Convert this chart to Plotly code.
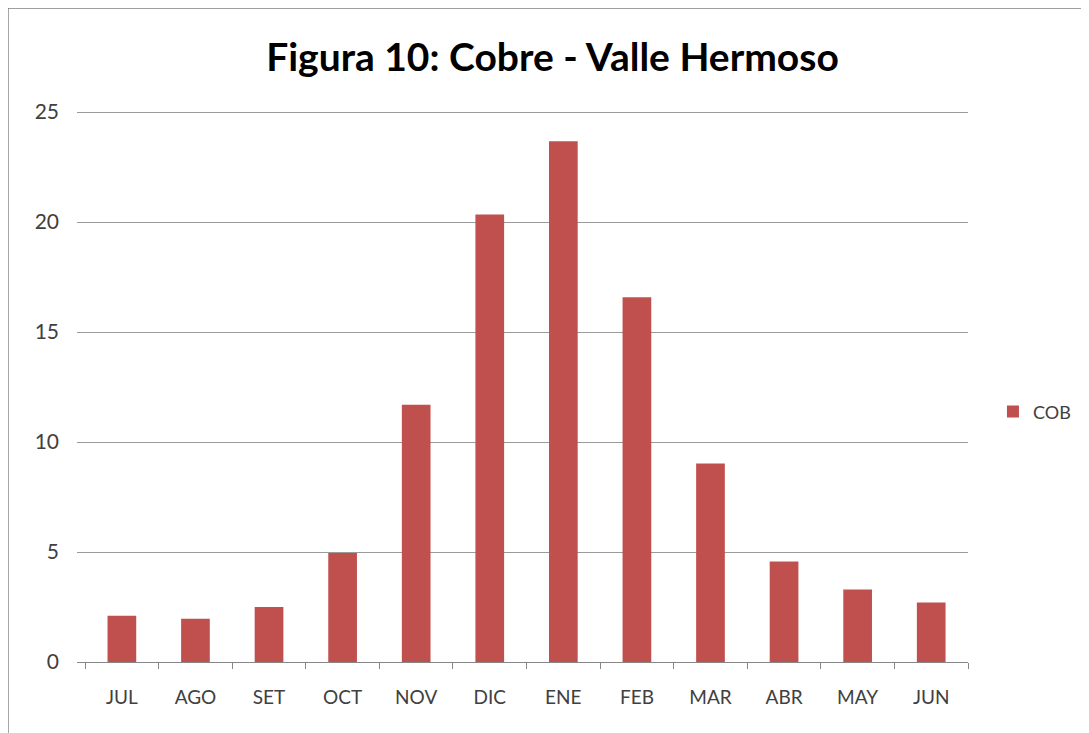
import plotly.graph_objects as go

# Monthly values
months = ['JUL', 'AGO', 'SET', 'OCT', 'NOV', 'DIC', 'ENE', 'FEB', 'MAR', 'ABR', 'MAY', 'JUN']
cob = [2.1, 1.97, 2.5, 4.96, 11.7, 20.35, 23.68, 16.58, 9.03, 4.57, 3.3, 2.7]
y_ticks = [0, 5, 10, 15, 20, 25]

fig = go.Figure()
fig.add_trace(go.Bar(
    x=months,
    y=cob,
    name='COB',
    marker=dict(color='#C0504D', line=dict(width=0)),
))

# page has an 8px body margin, so margins are shifted to line up with the reference
fig.update_layout(
    width=1089,
    height=733,
    margin=dict(l=69, r=129, t=103, b=79),
    paper_bgcolor='white',
    plot_bgcolor='white',
    bargap=0.61,
    title=dict(
        text='<b>Figura 10: Cobre - Valle Hermoso</b>',
        x=0.5, xanchor='center',
        y=0.933, yanchor='middle',
        font=dict(family='Lato, Open Sans, sans-serif', size=39, color='black'),
    ),
    font=dict(family='Lato, Open Sans, sans-serif', size=19, color='#404040'),
    showlegend=True,
    legend=dict(
        x=1.028, y=0.454, xanchor='left', yanchor='middle',
        font=dict(size=18, color='#404040'),
        itemwidth=30,
    ),
    xaxis=dict(
        range=[-0.61, 11.5],
        showgrid=False,
        showline=True, linecolor='#868686', linewidth=1,
        ticks='outside', tickson='boundaries', ticklen=6, tickcolor='#868686',
        tickfont=dict(size=19, color='#404040'),
        ticklabelstandoff=18,
    ),
    yaxis=dict(
        range=[0, 25.05],
        tickvals=y_ticks,
        showgrid=True, gridcolor='#9a9a9a', gridwidth=1,
        zeroline=False,
        ticks='', ticklen=0,
        tickfont=dict(size=21, color='#404040'),
        ticklabelstandoff=17,
    ),
    shapes=[dict(
        type='rect', xref='paper', yref='paper',
        x0=-0.0775, x1=1.2, y0=-0.14, y1=1.187,
        line=dict(color='#808080', width=1.5),
        fillcolor='rgba(0,0,0,0)',
        layer='below',
    )],
)

fig.write_html('out.html')
